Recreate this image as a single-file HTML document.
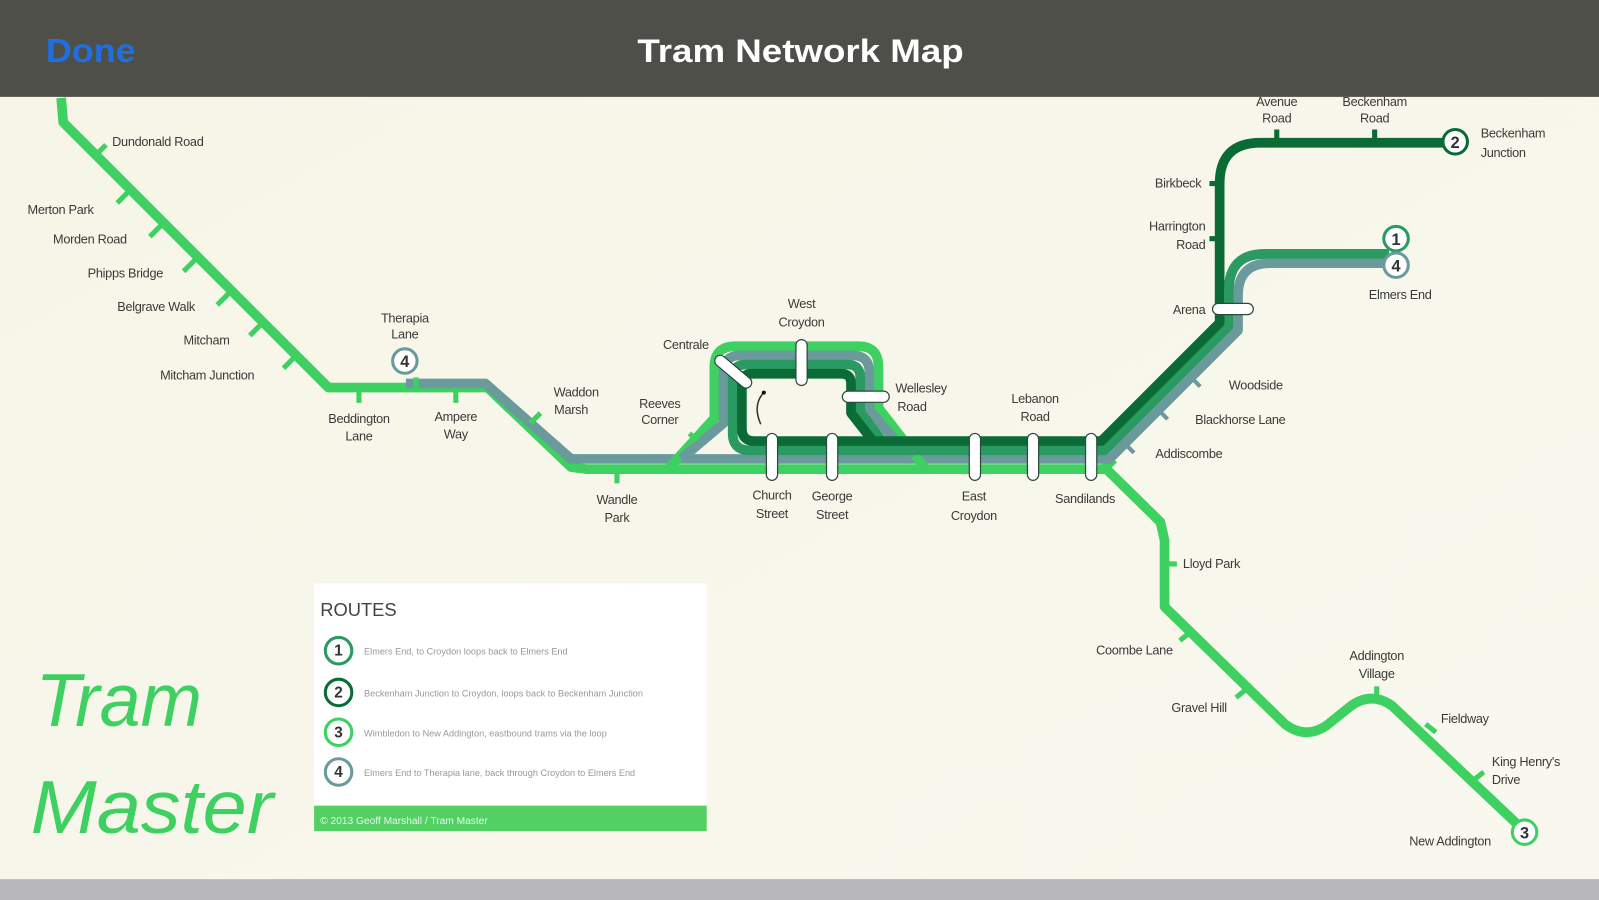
<!DOCTYPE html>
<html><head><meta charset="utf-8"><style>
html,body{margin:0;padding:0;width:1599px;height:900px;overflow:hidden;background:#f7f6ea}
svg{display:block}
text{font-family:"Liberation Sans",sans-serif}
.s{font-size:12.5px;fill:#3a3a3a;letter-spacing:-0.3px}
.m{text-anchor:middle}.e{text-anchor:end}
</style></head><body>
<svg width="1599" height="900" viewBox="0 0 1568 882.5" preserveAspectRatio="none" xmlns="http://www.w3.org/2000/svg">
<defs><linearGradient id="bg" x1="0" y1="0" x2="1" y2="1"><stop offset="0" stop-color="#f6f5e6"/><stop offset="1" stop-color="#f9f8ef"/></linearGradient></defs>
<rect x="0" y="0" width="1568" height="883" fill="url(#bg)"/>
<g fill="none" stroke-linejoin="round" stroke-linecap="butt" stroke-width="9.5">
<path stroke="#3fd062" d="M60,96 L62,120 L322,380 L478,380 L560,458 L575,460 L1085,460 L1138,512 L1142,530 L1142,595 L1260,710 Q1280,725 1300,712 L1325,692 Q1345,678 1365,692 L1495,815"/>
<path stroke="#3fd062" d="M1082,460 L1092,450"/>
<path stroke="#6a9a9c" d="M398,376 L476,376 L560,450 L1090,450"/>
<path stroke="#3fd062" d="M655,460 L700.5,410 L700.5,360 Q700.5,339.5 721,339.5 L842,339.5 Q861.5,339.5 861.5,360 L861.5,400 L908,460"/>
<path stroke="#6a9a9c" d="M668,450 L709.5,415 L709.5,365 Q709.5,348.5 726,348.5 L836,348.5 Q852.5,348.5 852.5,365 L852.5,402 L893,450"/>
<path stroke="#2a9a62" d="M718.5,425 L718.5,370 Q718.5,357.5 731,357.5 L831,357.5 Q843.5,357.5 843.5,370 L843.5,404 L872,441.5 M718.5,425 Q718.5,441.5 735,441.5 L1083.7,441.5 L1205,320 L1205,285 Q1205,249 1240,249 L1362,249"/>
<path stroke="#0b6b36" d="M727.5,420 L727.5,376 Q727.5,366.5 737,366.5 L825,366.5 Q834.5,366.5 834.5,376 L834.5,405 L856,432.5 M727.5,420 Q727.5,432.5 740,432.5 L1080,432.5 L1196,316.5 L1196,180 Q1196,140 1236,140 L1425,140"/>
<path stroke="#6a9a9c" d="M1087.4,450.5 L1214,324 L1214,290 Q1214,258 1246,258 L1362,258"/>
<path stroke="#2a9a62" d="M1205,300 L1205,285 Q1205,249 1240,249 L1362,249"/>
</g>
<g stroke="#3fd062" stroke-width="5">
<path d="M92,154 L104,142 M115,199 L127,187 M147,232 L159,220 M180,266 L192,254 M213,299 L225,287 M245,329 L257,317 M278,361 L290,349"/>
<path d="M352,380 L352,395 M447,380 L447,395 M408,380 L408,370 M605,460 L605,474 M530,405 L520,415 M676,425 L684,432"/>
<path d="M1142,553 L1154,553 M1157,628 L1167,620 M1212,684 L1222,676 M1350,685 L1350,673 M1398,710 L1408,718 M1445,765 L1455,757"/>
</g>
<g stroke="#0b6b36" stroke-width="5"><path d="M1196,180 L1186,180 M1196,234 L1186,234 M1252,140 L1252,127 M1348,140 L1348,127"/></g>
<g stroke="#6a9a9c" stroke-width="4"><path d="M1168,370 L1177,379 M1136,402 L1145,411 M1103,435 L1112,444"/></g>
<g fill="#fff" stroke="#2a4a3a" stroke-width="1.2">
<rect x="751.5" y="425" width="11" height="46" rx="5.5"/>
<rect x="810.5" y="425" width="11" height="46" rx="5.5"/>
<rect x="950.5" y="425" width="11" height="46" rx="5.5"/>
<rect x="1007.5" y="425" width="11" height="46" rx="5.5"/>
<rect x="1064.5" y="425" width="11" height="46" rx="5.5"/>
<rect x="780.5" y="333" width="11" height="45" rx="5.5"/>
<rect x="826" y="383.5" width="46" height="11" rx="5.5"/>
<rect x="1189" y="297.5" width="40" height="11" rx="5.5"/>
<rect x="697" y="359" width="44" height="11" rx="5.5" transform="rotate(40 719 364.5)"/>
</g>
<path d="M748,386 Q738,398 746,416" fill="none" stroke="#333" stroke-width="1.5"/><circle cx="749" cy="385" r="2" fill="#111"/>
<g stroke-width="3" fill="#fff" font-size="16" font-weight="bold">
<circle cx="397" cy="354" r="12" stroke="#6a9a9c"/><text x="397" y="360" class="m" fill="#333">4</text>
<circle cx="1427" cy="139" r="12" stroke="#0b6b36"/><text x="1427" y="145" class="m" fill="#333">2</text>
<circle cx="1369" cy="234" r="12" stroke="#2a9a62"/><text x="1369" y="240" class="m" fill="#333">1</text>
<circle cx="1369" cy="260" r="12" stroke="#6a9a9c"/><text x="1369" y="266" class="m" fill="#333">4</text>
<circle cx="1495" cy="816" r="12" stroke="#3fd062"/><text x="1495" y="822" class="m" fill="#333">3</text>
</g>
<g class="s">
<text x="110" y="143">Dundonald Road</text>
<text x="27" y="210">Merton Park</text>
<text x="52" y="239">Morden Road</text>
<text x="86" y="272">Phipps Bridge</text>
<text x="115" y="305">Belgrave Walk</text>
<text x="180" y="338">Mitcham</text>
<text x="157" y="372">Mitcham Junction</text>
<text x="397" y="316" class="m">Therapia</text><text x="397" y="332" class="m">Lane</text>
<text x="352" y="415" class="m">Beddington</text><text x="352" y="432" class="m">Lane</text>
<text x="447" y="413" class="m">Ampere</text><text x="447" y="430" class="m">Way</text>
<text x="565" y="389" class="m">Waddon</text><text x="560" y="406" class="m">Marsh</text>
<text x="605" y="494" class="m">Wandle</text><text x="605" y="512" class="m">Park</text>
<text x="647" y="400" class="m">Reeves</text><text x="647" y="416" class="m">Corner</text>
<text x="695" y="342" class="e">Centrale</text>
<text x="786" y="302" class="m">West</text><text x="786" y="320" class="m">Croydon</text>
<text x="878" y="385">Wellesley</text><text x="880" y="403">Road</text>
<text x="757" y="490" class="m">Church</text><text x="757" y="508" class="m">Street</text>
<text x="816" y="491" class="m">George</text><text x="816" y="509" class="m">Street</text>
<text x="955" y="491" class="m">East</text><text x="955" y="510" class="m">Croydon</text>
<text x="1015" y="395" class="m">Lebanon</text><text x="1015" y="413" class="m">Road</text>
<text x="1064" y="493" class="m">Sandilands</text>
<text x="1133" y="449">Addiscombe</text>
<text x="1172" y="416">Blackhorse Lane</text>
<text x="1205" y="382">Woodside</text>
<text x="1182" y="308" class="e">Arena</text>
<text x="1182" y="226" class="e">Harrington</text><text x="1182" y="244" class="e">Road</text>
<text x="1178" y="184" class="e">Birkbeck</text>
<text x="1252" y="104" class="m">Avenue</text><text x="1252" y="120" class="m">Road</text>
<text x="1348" y="104" class="m">Beckenham</text><text x="1348" y="120" class="m">Road</text>
<text x="1452" y="135">Beckenham</text><text x="1452" y="154">Junction</text>
<text x="1373" y="293" class="m">Elmers End</text>
<text x="1160" y="557">Lloyd Park</text>
<text x="1150" y="642" class="e">Coombe Lane</text>
<text x="1203" y="698" class="e">Gravel Hill</text>
<text x="1350" y="647" class="m">Addington</text><text x="1350" y="665" class="m">Village</text>
<text x="1413" y="709">Fieldway</text>
<text x="1463" y="751">King Henry's</text><text x="1463" y="769">Drive</text>
<text x="1462" y="829" class="e">New Addington</text>
</g>
<rect x="0" y="0" width="1568" height="95" fill="#4f4f49"/>
<text x="45" y="61" font-size="33" font-weight="bold" fill="#1f6fe0" textLength="88" lengthAdjust="spacingAndGlyphs">Done</text>
<text x="785" y="61" font-size="32" font-weight="bold" fill="#fff" class="m" textLength="320" lengthAdjust="spacingAndGlyphs">Tram Network Map</text>
<rect x="0" y="862" width="1568" height="21" fill="#b9b9bd"/>
<rect x="308" y="572" width="385" height="243" fill="#fff"/>
<rect x="308" y="790" width="385" height="25" fill="#52d063"/>
<text x="314" y="604" font-size="18" fill="#444">ROUTES</text>
<g stroke-width="3" fill="#fff" font-size="15" font-weight="bold">
<circle cx="332" cy="638" r="13" stroke="#2a9a62"/><text x="332" y="643" class="m" fill="#333">1</text>
<circle cx="332" cy="679" r="13" stroke="#0b6b36"/><text x="332" y="684" class="m" fill="#333">2</text>
<circle cx="332" cy="718" r="13" stroke="#3fd062"/><text x="332" y="723" class="m" fill="#333">3</text>
<circle cx="332" cy="757" r="13" stroke="#6a9a9c"/><text x="332" y="762" class="m" fill="#333">4</text>
</g>
<g font-size="9" fill="#999">
<text x="357" y="642">Elmers End, to Croydon loops back to Elmers End</text>
<text x="357" y="683">Beckenham Junction to Croydon, loops back to Beckenham Junction</text>
<text x="357" y="722">Wimbledon to New Addington, eastbound trams via the loop</text>
<text x="357" y="761">Elmers End to Therapia lane, back through Croydon to Elmers End</text>
</g>
<text x="314" y="808" font-size="10" fill="#e8f8ea">© 2013 Geoff Marshall / Tram Master</text>
<text x="35" y="712" font-size="74" font-style="italic" fill="#3fd062" textLength="163" lengthAdjust="spacingAndGlyphs">Tram</text>
<text x="30" y="817" font-size="74" font-style="italic" fill="#3fd062" textLength="238" lengthAdjust="spacingAndGlyphs">Master</text>
</svg>
</body></html>
